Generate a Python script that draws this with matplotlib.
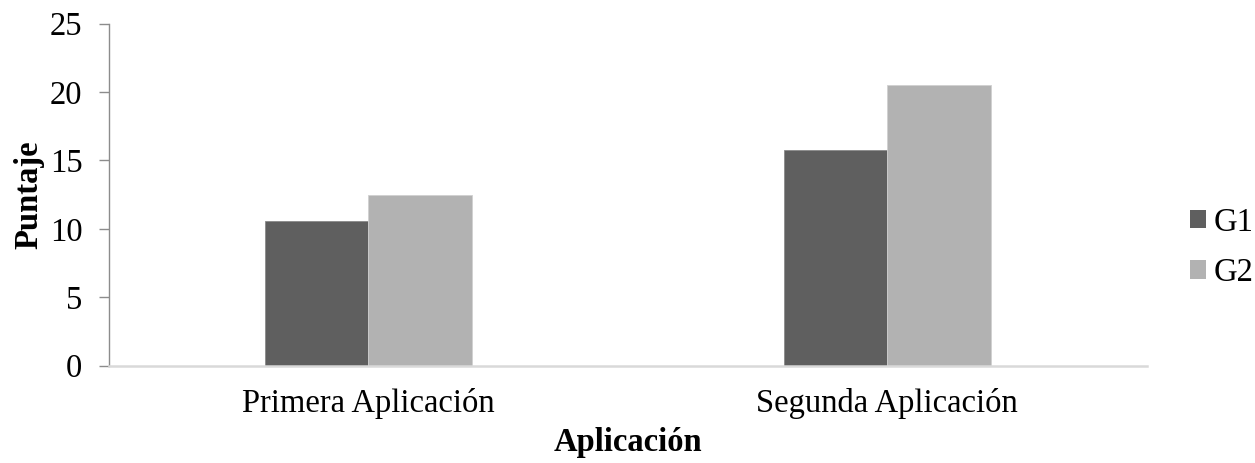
import matplotlib
matplotlib.use("Agg")
import matplotlib.pyplot as plt
from matplotlib.patches import Patch
import numpy as np

categories = ["Primera Aplicación", "Segunda Aplicación"]
series_names = ["G1", "G2"]
g1_values = [10.55, 15.8]
g2_values = [12.5, 20.5]
y_ticks = [0, 5, 10, 15, 20, 25]

colors = ["#5f5f5f", "#b2b2b2"]
plt.rcParams['font.family'] = ['Liberation Serif', 'DejaVu Serif']
FS = 23.5

fig = plt.figure(figsize=(12.55, 4.63), dpi=100)
ax = fig.add_axes([0.0869, 0.2102, 0.9137 - 0.0869, 0.9488 - 0.2102])

x = np.arange(len(categories))
w = 0.2
ax.bar(x - w / 2, g1_values, w, color=colors[0], edgecolor="#8a8a8a", linewidth=0.6, label=series_names[0])
ax.bar(x + w / 2, g2_values, w, color=colors[1], edgecolor="#d0d0d0", linewidth=0.6, label=series_names[1])

ax.set_xlim(-0.5, 1.5)
ax.set_ylim(0, 25)
ax.set_yticks(y_ticks)
ax.set_xticks(x)
ax.set_xticklabels(categories)

for s in ["top", "right"]:
    ax.spines[s].set_visible(False)
ax.spines["left"].set_color("#8c8c8c")
ax.spines["left"].set_linewidth(1.0)
ax.spines["bottom"].set_color("#d9d9d9")
ax.spines["bottom"].set_linewidth(1.8)

ax.tick_params(axis="y", length=7.2, width=1.0, color="#8c8c8c", pad=12, labelsize=FS)
ax.tick_params(axis="x", length=0, pad=16, labelsize=FS)

ax.set_ylabel("Puntaje", fontsize=FS, fontweight="bold", labelpad=4)
ax.set_xlabel("Aplicación", fontsize=FS, fontweight="bold", labelpad=6)

handles = [Patch(facecolor=colors[0], edgecolor="none"), Patch(facecolor=colors[1], edgecolor="none")]
leg = fig.legend(handles, series_names, loc="center left", bbox_to_anchor=(0.948, 0.465),
                 frameon=False, fontsize=FS, handlelength=0.5, handleheight=0.5,
                 handletextpad=0.22, labelspacing=0.62, borderaxespad=0, borderpad=0)

fig.savefig("out.png", dpi=100)
